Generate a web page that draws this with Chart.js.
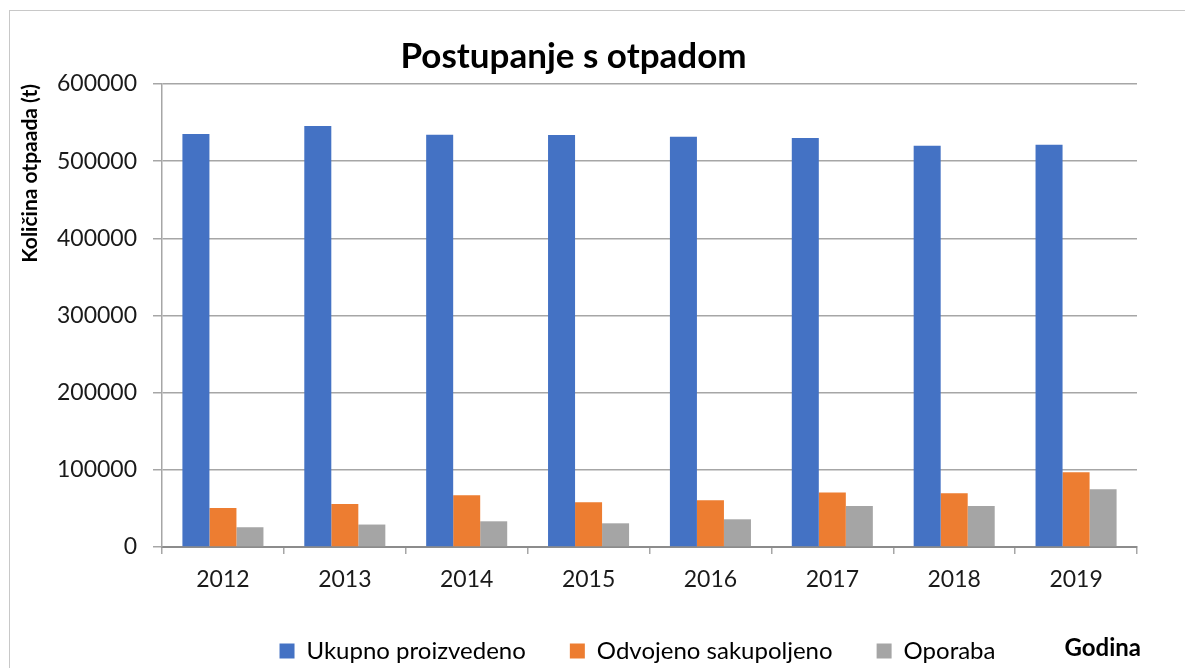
<!DOCTYPE html>
<html>
<head>
<meta charset="utf-8">
<script src="https://cdn.jsdelivr.net/npm/chart.js@4"></script>
<style>
  html, body { margin: 0; padding: 0; background: #fff; }
  #wrap { width: 1185px; height: 668px; }
</style>
</head>
<body>
<div id="wrap"><canvas id="myChart" width="1185" height="668"></canvas></div>
<script>
// Data
var years = ['2012', '2013', '2014', '2015', '2016', '2017', '2018', '2019'];
var ukupno = [535100, 545500, 534200, 533800, 531600, 529900, 519900, 521200];
var odvojeno = [50600, 55800, 67100, 58000, 60600, 70600, 69700, 96900];
var oporaba = [25600, 29100, 33300, 30700, 35900, 53200, 53200, 74900];
var yTicks = [0, 100000, 200000, 300000, 400000, 500000, 600000];

var FONT = 'Lato';
var LEGEND_DX = 64;     // legend sits right of centre in the original
var LEGEND_TEXT_Y = 651;
var LEGEND_PAD = 44;
var LEGEND_SIZE = 24;

// frame, white background, "Godina" label, legend nudge
var extras = {
    id: 'extras',
    afterLayout: function (chart) {
        var lg = chart.legend;
        lg.left += LEGEND_DX; lg.right += LEGEND_DX;
        // text is drawn at top + padding + half the item height
        lg.top = LEGEND_TEXT_Y - LEGEND_PAD - LEGEND_SIZE / 2;
        lg.bottom = chart.height;
    },
    beforeDraw: function (chart) {
        var ctx = chart.ctx;
        ctx.save();
        ctx.fillStyle = '#fff';
        ctx.fillRect(0, 0, chart.width, chart.height);
        ctx.strokeStyle = '#c8c8c8';
        ctx.lineWidth = 1;
        ctx.strokeRect(9.5, 10.5, 1190, 680);
        ctx.restore();
    },
    afterDraw: function (chart) {
        var ctx = chart.ctx;
        ctx.save();
        ctx.font = 'bold 24px ' + FONT;
        ctx.fillStyle = '#000';
        ctx.textAlign = 'right';
        ctx.textBaseline = 'middle';
        ctx.fillText('Godina', 1141, 648);
        ctx.restore();
    }
};

function renderChart() {
    var ctx = document.getElementById('myChart').getContext('2d');
    new Chart(ctx, {
        type: 'bar',
        data: {
            labels: years,
            datasets: [
                { label: 'Ukupno proizvedeno', data: ukupno, backgroundColor: '#4472c4' },
                { label: 'Odvojeno sakupoljeno', data: odvojeno, backgroundColor: '#ed7d31' },
                { label: 'Oporaba', data: oporaba, backgroundColor: '#a5a5a5' }
            ]
        },
        options: {
            responsive: false,
            animation: false,
            layout: { padding: { left: 10, right: 48, top: 0, bottom: 0 } },
            datasets: {
                bar: { categoryPercentage: 0.665, barPercentage: 1 }
            },
            plugins: {
                title: {
                    display: true,
                    text: 'Postupanje s otpadom',
                    color: '#000',
                    font: { family: FONT, size: 35, weight: 'bold' },
                    padding: { top: 36, bottom: 6 }
                },
                legend: {
                    position: 'bottom',
                    maxHeight: 40,
                    labels: {
                        color: '#000',
                        font: { family: FONT, size: LEGEND_SIZE },
                        boxWidth: 15,
                        boxHeight: 15,
                        padding: LEGEND_PAD
                    }
                },
                tooltip: { enabled: false }
            },
            scales: {
                x: {
                    afterFit: function (scale) { scale.height = 81; },
                    grid: { drawOnChartArea: false, drawTicks: true, tickLength: 7, color: '#a6a6a6', lineWidth: 1.5 },
                    border: { color: '#8c8c8c', width: 2 },
                    ticks: { color: '#1a1a1a', font: { family: FONT, size: 23 }, padding: 12 }
                },
                y: {
                    min: 0,
                    max: 600000,
                    afterFit: function (scale) { scale.width = 152; },
                    afterBuildTicks: function (scale) {
                        scale.ticks = yTicks.map(function (v) { return { value: v }; });
                    },
                    grid: { color: '#a6a6a6', lineWidth: 1.5, tickLength: 9 },
                    border: { color: '#a6a6a6', width: 1.5 },
                    ticks: {
                        color: '#1a1a1a',
                        font: { family: FONT, size: 23 },
                        padding: 16,
                        callback: function (v) { return String(v); }
                    },
                    title: {
                        display: true,
                        text: 'Količina otpaada (t)',
                        align: 'end',
                        color: '#000',
                        font: { family: FONT, size: 21, weight: 'bold' },
                        padding: { top: 8, bottom: 0 }
                    }
                }
            }
        },
        plugins: [extras]
    });
}

renderChart();
</script>
</body>
</html>
